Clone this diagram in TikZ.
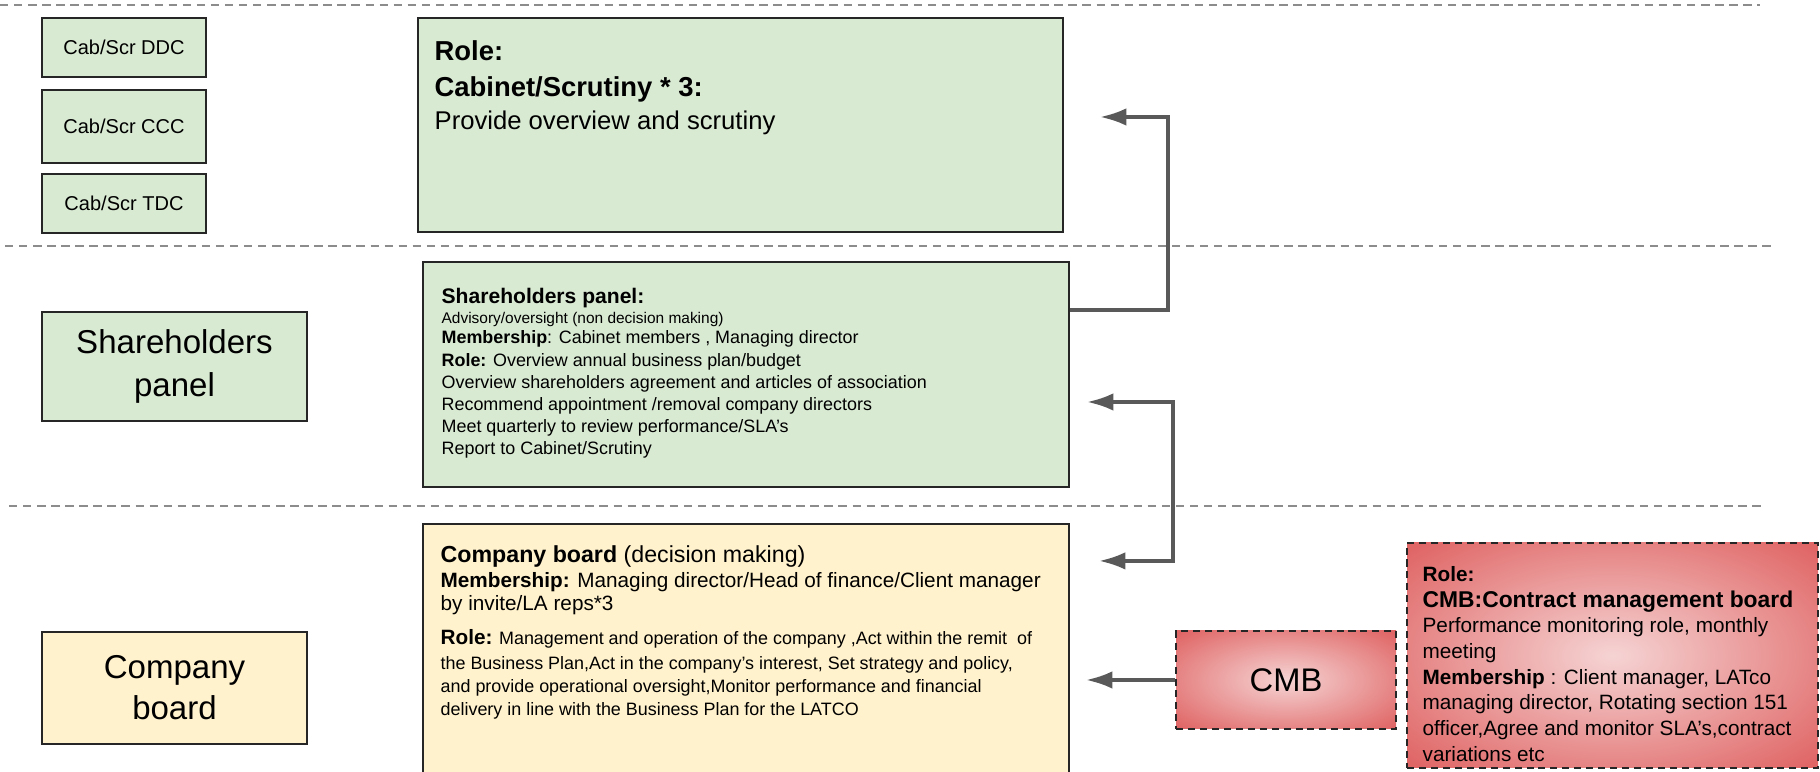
\documentclass[tikz,border=0pt]{standalone}
\usepackage{fontspec}
\setmainfont{Liberation Sans}
\usetikzlibrary{positioning,arrows.meta}

\definecolor{boxgreen}{HTML}{D9EAD3}
\definecolor{boxyellow}{HTML}{FFF2CC}
\definecolor{cmbred}{HTML}{E06666}
\definecolor{cmbpink}{HTML}{F4CCCC}
\definecolor{linegray}{HTML}{595959}
\definecolor{sepgray}{HTML}{8C8C8C}

\pgfdeclareradialshading{cmbglow}{\pgfpoint{0bp}{0bp}}{%
  color(0bp)=(cmbpink!85!white); color(34bp)=(cmbred); color(50bp)=(cmbred)}

\tikzset{
  greenbox/.style={draw=black!85, line width=0.6pt, fill=boxgreen, inner sep=0pt},
  yellowbox/.style={draw=black!85, line width=0.6pt, fill=boxyellow, inner sep=0pt},
  cmbbox/.style={draw=black!85, line width=0.6pt, dash pattern=on 2pt off 1.4pt,
    shading=cmbglow, inner sep=0pt},
  separator/.style={sepgray, line width=0.6pt, dash pattern=on 2.4pt off 1.6pt},
  conn/.style={linegray, line width=1pt},
  bodytext/.style={anchor=north west, align=left, inner sep=0pt},
  >={Latex[length=7.5pt,width=5pt]}
}

\begin{document}
\begin{tikzpicture}
\useasboundingbox (0,0) rectangle (18.2,-7.72);

\draw[separator] (0,-0.05) -- (17.6,-0.05);
\draw[separator] (0.05,-2.46) -- (17.74,-2.46);
\draw[separator] (0.09,-5.06) -- (17.64,-5.06);

% cabinet / scrutiny row
\node[greenbox, minimum width=1.64cm, minimum height=0.59cm, font=\fontsize{5.7}{6.7}\selectfont] (ddc) at (1.24,-0.475) {Cab/Scr DDC};
\node[greenbox, minimum width=1.64cm, minimum height=0.73cm, font=\fontsize{5.7}{6.7}\selectfont, below=0.11cm of ddc] (ccc) {Cab/Scr CCC};
\node[greenbox, minimum width=1.64cm, minimum height=0.59cm, font=\fontsize{5.7}{6.7}\selectfont, below=0.09cm of ccc] (tdc) {Cab/Scr TDC};

\node[greenbox, minimum width=6.45cm, minimum height=2.14cm] (role) at (7.405,-1.25) {};
\node[bodytext, font=\fontsize{7.3}{8.9}\selectfont] (roletext) at ([shift={(0.17,-0.23)}]role.north west)
  {{\fontsize{7.8}{8.9}\selectfont\bfseries Role:}\\[1.4pt]
   {\fontsize{7.8}{8.9}\selectfont\bfseries Cabinet/Scrutiny * 3:}\\[0.3pt]
   Provide overview and scrutiny};

% shareholders row
\node[greenbox, minimum width=2.65cm, minimum height=1.09cm, align=center, font=\fontsize{9.4}{12}\selectfont] (shp) at (1.745,-3.665) {Shareholders\\panel};

\node[greenbox, minimum width=6.46cm, minimum height=2.25cm] (shpd) at (7.46,-3.745) {};
\node[bodytext, font=\fontsize{5.1}{6.3}\selectfont] (shptext) at ([shift={(0.19,-0.27)}]shpd.north west)
  {{\fontsize{6}{6}\selectfont\bfseries Shareholders panel:}\\[-0.8pt]
   {\fontsize{4.4}{5}\selectfont Advisory/oversight (non decision making)}\\[-0.4pt]
   \textbf{Membership}: Cabinet members , Managing director\\
   \textbf{Role:} Overview annual business plan/budget\\
   Overview shareholders agreement and articles of association\\
   Recommend appointment /removal company directors\\
   Meet quarterly to review performance/SLA's\\
   Report to Cabinet/Scrutiny};

% company board row
\node[yellowbox, minimum width=2.65cm, minimum height=1.12cm, align=center, font=\fontsize{9.4}{11.6}\selectfont] (cb) at (1.745,-6.88) {Company\\board};

\node[yellowbox, minimum width=6.46cm, minimum height=2.66cm] (cbd) at (7.46,-6.57) {};
\node[bodytext, font=\fontsize{5.1}{6.6}\selectfont] (cbtext) at ([shift={(0.18,-0.22)}]cbd.north west)
  {{\fontsize{6.6}{6.6}\selectfont\textbf{Company board} (decision making)}\\[0.5pt]
   {\fontsize{5.9}{6}\selectfont\textbf{Membership:} Managing director/Head of finance/Client manager}\\
   {\fontsize{5.9}{6}\selectfont by invite/LA reps*3}\\[3.1pt]
   {\fontsize{5.9}{6}\selectfont\bfseries Role:} Management and operation of the company ,Act within the remit\ \ of\\[0.4pt]
   the Business Plan,Act in the company's interest, Set strategy and policy,\\
   and provide operational oversight,Monitor performance and financial\\
   delivery in line with the Business Plan for the LATCO};

\node[cmbbox, minimum width=2.20cm, minimum height=0.98cm, font=\fontsize{9.3}{11}\selectfont] (cmb) at (12.86,-6.80) {CMB};

\node[cmbbox, minimum width=4.11cm, minimum height=2.25cm] (cmbd) at (16.125,-6.555) {};
\node[bodytext, font=\fontsize{5.9}{7.3}\selectfont] (cmbtext) at ([shift={(0.16,-0.24)}]cmbd.north west)
  {\textbf{Role:}\\
   {\fontsize{6.5}{7}\selectfont\bfseries CMB:Contract management board}\\
   Performance monitoring role, monthly\\
   meeting\\
   \textbf{Membership} : Client manager, LATco\\
   managing director, Rotating section 151\\
   officer,Agree and monitor SLA's,contract\\
   variations etc};

% connectors
\coordinate (roleIn) at ([shift={(0.36,0.08)}]role.east);
\coordinate (shpOut) at ([yshift=0.645cm]shpd.east);
\coordinate (shpIn) at ([shift={(0.17,-0.275)}]shpd.east);
\coordinate (cbIn) at ([shift={(0.29,-0.38)}]cbd.north east);
\coordinate (cbIn2) at ([xshift=0.16cm]cbd.east |- cmb.west);

\draw[conn,->] (shpOut) -- ++(0.98,0) |- (roleIn);
\draw[conn,<->] (shpIn) -- ++(0.86,0) |- (cbIn);
\draw[conn,->] (cmb.west) -- (cbIn2);
\end{tikzpicture}
\end{document}
